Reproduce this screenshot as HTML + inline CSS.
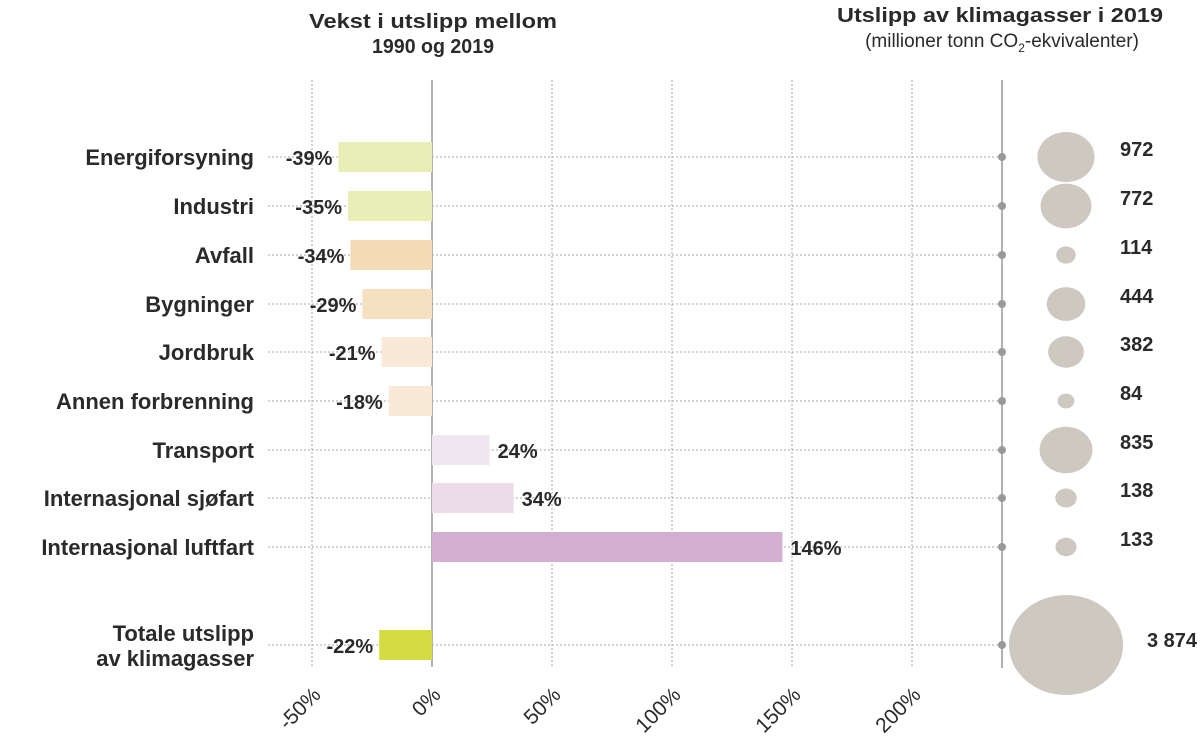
<!DOCTYPE html>
<html><head><meta charset="utf-8"><style>
body{margin:0;background:#fff;font-family:"Liberation Sans",sans-serif;}
svg{display:block}
text{font-family:"Liberation Sans",sans-serif;fill:#2a2a2a}
</style></head><body>
<svg id="c" width="1200" height="741">
<text x="433" y="28" text-anchor="middle" font-size="20" font-weight="bold"><tspan x="433" textLength="248" lengthAdjust="spacingAndGlyphs">Vekst i utslipp mellom</tspan><tspan x="433" y="53" textLength="122" lengthAdjust="spacingAndGlyphs">1990 og 2019</tspan></text>
<text x="1000" y="22" text-anchor="middle" font-size="20" font-weight="bold" textLength="326" lengthAdjust="spacingAndGlyphs">Utslipp av klimagasser i 2019</text>
<text x="1002" y="47" text-anchor="middle" font-size="19" fill="#333">(millioner tonn CO<tspan font-size="12" dy="5">2</tspan><tspan dy="-5">-ekvivalenter)</tspan></text>
<g id="grid"></g><g id="rows"></g><g id="ticks"></g>
</svg>
<script>
const categories=["Energiforsyning","Industri","Avfall","Bygninger","Jordbruk","Annen forbrenning","Transport","Internasjonal sjøfart","Internasjonal luftfart","Totale utslipp|av klimagasser"];
const growth=[-39,-35,-34,-29,-21,-18,24,34,146,-22];
const emissions=[972,772,114,444,382,84,835,138,133,3874];
const emissionLabels=["972","772","114","444","382","84","835","138","133","3 874"];
const colors=["#e8eeb6","#e8eeb6","#f4dcb6","#f5e0c0","#f8ead6","#f8ead6","#efe6ef","#ecdbe8","#d2aed0","#d4dc44"];
const tickValues=[-50,0,50,100,150,200];
const rowY=[157,206,255,304,352,401,450,498,547,645];
const NS="http://www.w3.org/2000/svg";
const x=v=>432+v*2.4;
function el(tag,attrs,parent,txt){const e=document.createElementNS(NS,tag);for(const k in attrs)e.setAttribute(k,attrs[k]);if(txt!==undefined)e.textContent=txt;parent.appendChild(e);return e;}
const grid=document.getElementById('grid'),rows=document.getElementById('rows'),ticks=document.getElementById('ticks');
tickValues.forEach(t=>{
  const l=el('line',{x1:x(t),x2:x(t),y1:80,y2:667,stroke:t===0?'#999':'#aaa','stroke-width':t===0?1.5:1,'stroke-dasharray':t===0?'':'2,2'},grid);
  
  
  const tx=el('text',{x:x(t)+10,y:696,'font-size':21,fill:'#444','text-anchor':'end',transform:`rotate(-45 ${x(t)+10} 696)`},ticks,t+'%');
  
  
});
const ax=el('line',{x1:1002,x2:1002,y1:80,y2:668,stroke:'#999','stroke-width':1.5},grid);


const k=0.916;
categories.forEach((c,i)=>{
  const y=rowY[i],g=growth[i];
  const gl=el('line',{x1:268,x2:1002,y1:y,y2:y,stroke:'#aaa','stroke-dasharray':'2,2'},rows);
  
  
  const lines=c.split('|');
  const t=el('text',{x:254,y:lines.length>1?y-4:y+8,'font-size':22,'font-weight':'bold','text-anchor':'end'},rows);
  
  
  lines.forEach((s,j)=>el('tspan',{x:254,dy:j?25:0},t,s));
  const b=el('rect',{x:Math.min(x(g),x(0)),y:y-15,width:Math.abs(x(g)-x(0)),height:30,fill:colors[i]},rows);
  
  
  const vl=el('text',{x:g<0?x(g)-6:x(g)+8,y:y+8,'font-size':20,'font-weight':'bold','text-anchor':g<0?'end':'start'},rows,g+'%');
  
  
  const d=el('circle',{cx:1002,cy:y,r:4,fill:'#999'},rows);
  
  
  const rx=k*Math.sqrt(emissions[i]);
  const e=el('ellipse',{cx:1066,cy:y,rx:rx,ry:rx/1.14,fill:'#cdc8c0'},rows);
  
  
  const el2=el('text',{x:i===9?1147:1120,y:i===9?y+2:y-1,'font-size':20,'font-weight':'bold'},rows,emissionLabels[i]);
  
  
});
</script>
</body></html>
